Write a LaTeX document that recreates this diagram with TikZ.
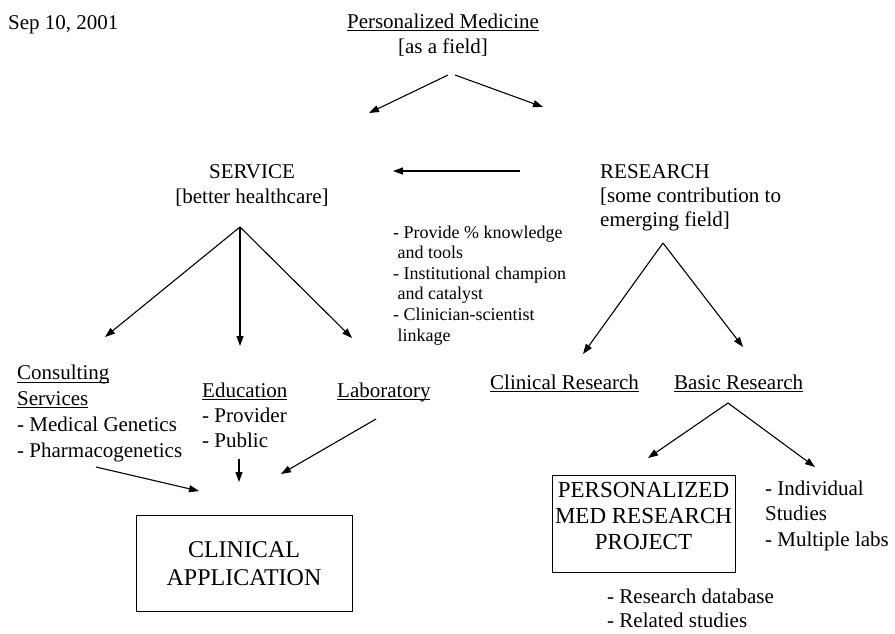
\documentclass[tikz,border=0pt]{standalone}
\usepackage{fontspec}
\setmainfont{Liberation Serif}
\usetikzlibrary{arrows.meta}
% underline that sits just below the baseline, crossing descenders
\newsavebox\ulbox
\newcommand\undl[1]{\sbox\ulbox{#1}\rlap{\rule[-2.6pt]{\wd\ulbox}{0.9pt}}\usebox\ulbox}
\begin{document}
\begin{tikzpicture}[x=1pt,y=-1pt,
  txt/.style={inner sep=0pt, font=\fontsize{21}{25.5}\selectfont, align=left},
  small/.style={inner sep=0pt, font=\fontsize{18}{20.6}\selectfont, align=left},
  boxtxt/.style={inner sep=0pt, font=\fontsize{24}{28}\selectfont, align=center},
  frame/.style={draw, line width=1pt},
  link/.style={line width=1.1pt, -{Triangle[length=10pt,width=7pt]}}]
\useasboundingbox (0,0) rectangle (895,633);

% header (multi-line nodes are placed by the baseline of their last line)
\node[txt, anchor=base west] (date) at (8,29) {Sep 10, 2001};
\node[txt, align=center, anchor=base, font=\fontsize{21}{25}\selectfont] (pm) at (443,53) {\undl{Personalized Medicine}\\{}[as a field]};

% second level
\node[txt, align=center, anchor=base, font=\fontsize{21}{24.5}\selectfont] (service) at (252,203) {SERVICE\\{}[better healthcare]};
\node[txt, anchor=base west, font=\fontsize{21}{24}\selectfont] (research) at (600,226) {RESEARCH\\{}[some contribution to\\emerging field]};
\node[small, anchor=base west] (support) at (393,341) {- Provide \% knowledge\\\hspace*{4.5pt}and tools\\- Institutional champion\\\hspace*{4.5pt}and catalyst\\- Clinician-scientist\\\hspace*{4.5pt}linkage};

% service branches
\node[txt, anchor=base west, font=\fontsize{21}{25.7}\selectfont] (consult) at (17,457) {\undl{Consulting}\\\undl{Services}\\- Medical Genetics\\- Pharmacogenetics};
\node[txt, anchor=base west, font=\fontsize{21}{25}\selectfont] (edu) at (202,447) {\undl{Education}\\- Provider\\- Public};
\node[txt, anchor=base west] (lab) at (337,397) {\undl{Laboratory}};

% research branches
\node[txt, anchor=base west] (clinres) at (490,389) {\undl{Clinical Research}};
\node[txt, anchor=base west] (basic) at (674,389) {\undl{Basic Research}};

% boxes
\draw[frame] (136,515) rectangle (352,611);
\node[boxtxt, anchor=base] (clinapp) at (244,585) {CLINICAL\\APPLICATION};
\draw[frame] (552,475) rectangle (735,572);
\node[boxtxt, font=\fontsize{23}{26}\selectfont, anchor=base] (project) at (643.5,549) {PERSONALIZED\\MED RESEARCH\\PROJECT};

% notes around the project
\node[txt, anchor=base west] (indiv) at (765,546) {- Individual\\Studies\\- Multiple labs};
\node[txt, anchor=base west, font=\fontsize{21}{24}\selectfont] (db) at (607,627) {- Research database\\- Related studies};

% arrow end points
\coordinate (pmL) at (448,75);   \coordinate (pmR) at (455,75);
\coordinate (svcIn) at (369,113); \coordinate (resIn) at (543,107);
\coordinate (resOut) at (520,171); \coordinate (svcSide) at (393,171);
\coordinate (svcTop) at (240,227);
\coordinate (consIn) at (105,337); \coordinate (eduIn) at (240,346); \coordinate (labIn) at (352,338);
\coordinate (resTop) at (663,243);
\coordinate (crIn) at (583,354); \coordinate (brIn) at (743,347);
\coordinate (brTop) at (728,403);
\coordinate (projIn) at (648,458); \coordinate (indIn) at (815,467);
\coordinate (consOut) at (96,467); \coordinate (caL) at (199,491);
\coordinate (eduOut) at (239,459); \coordinate (caM) at (239,482);
\coordinate (labOut) at (376,419); \coordinate (caR) at (281,474);

% connectors
\draw[link] (pmL) -- (svcIn);
\draw[link] (pmR) -- (resIn);
\draw[link] (resOut) -- (svcSide);
\draw[link] (svcTop) -- (consIn);
\draw[link] (svcTop) -- (eduIn);
\draw[link] (svcTop) -- (labIn);
\draw[link] (resTop) -- (crIn);
\draw[link] (resTop) -- (brIn);
\draw[link] (brTop) -- (projIn);
\draw[link] (brTop) -- (indIn);
\draw[link] (consOut) -- (caL);
\draw[link] (eduOut) -- (caM);
\draw[link] (labOut) -- (caR);
\end{tikzpicture}
\end{document}
